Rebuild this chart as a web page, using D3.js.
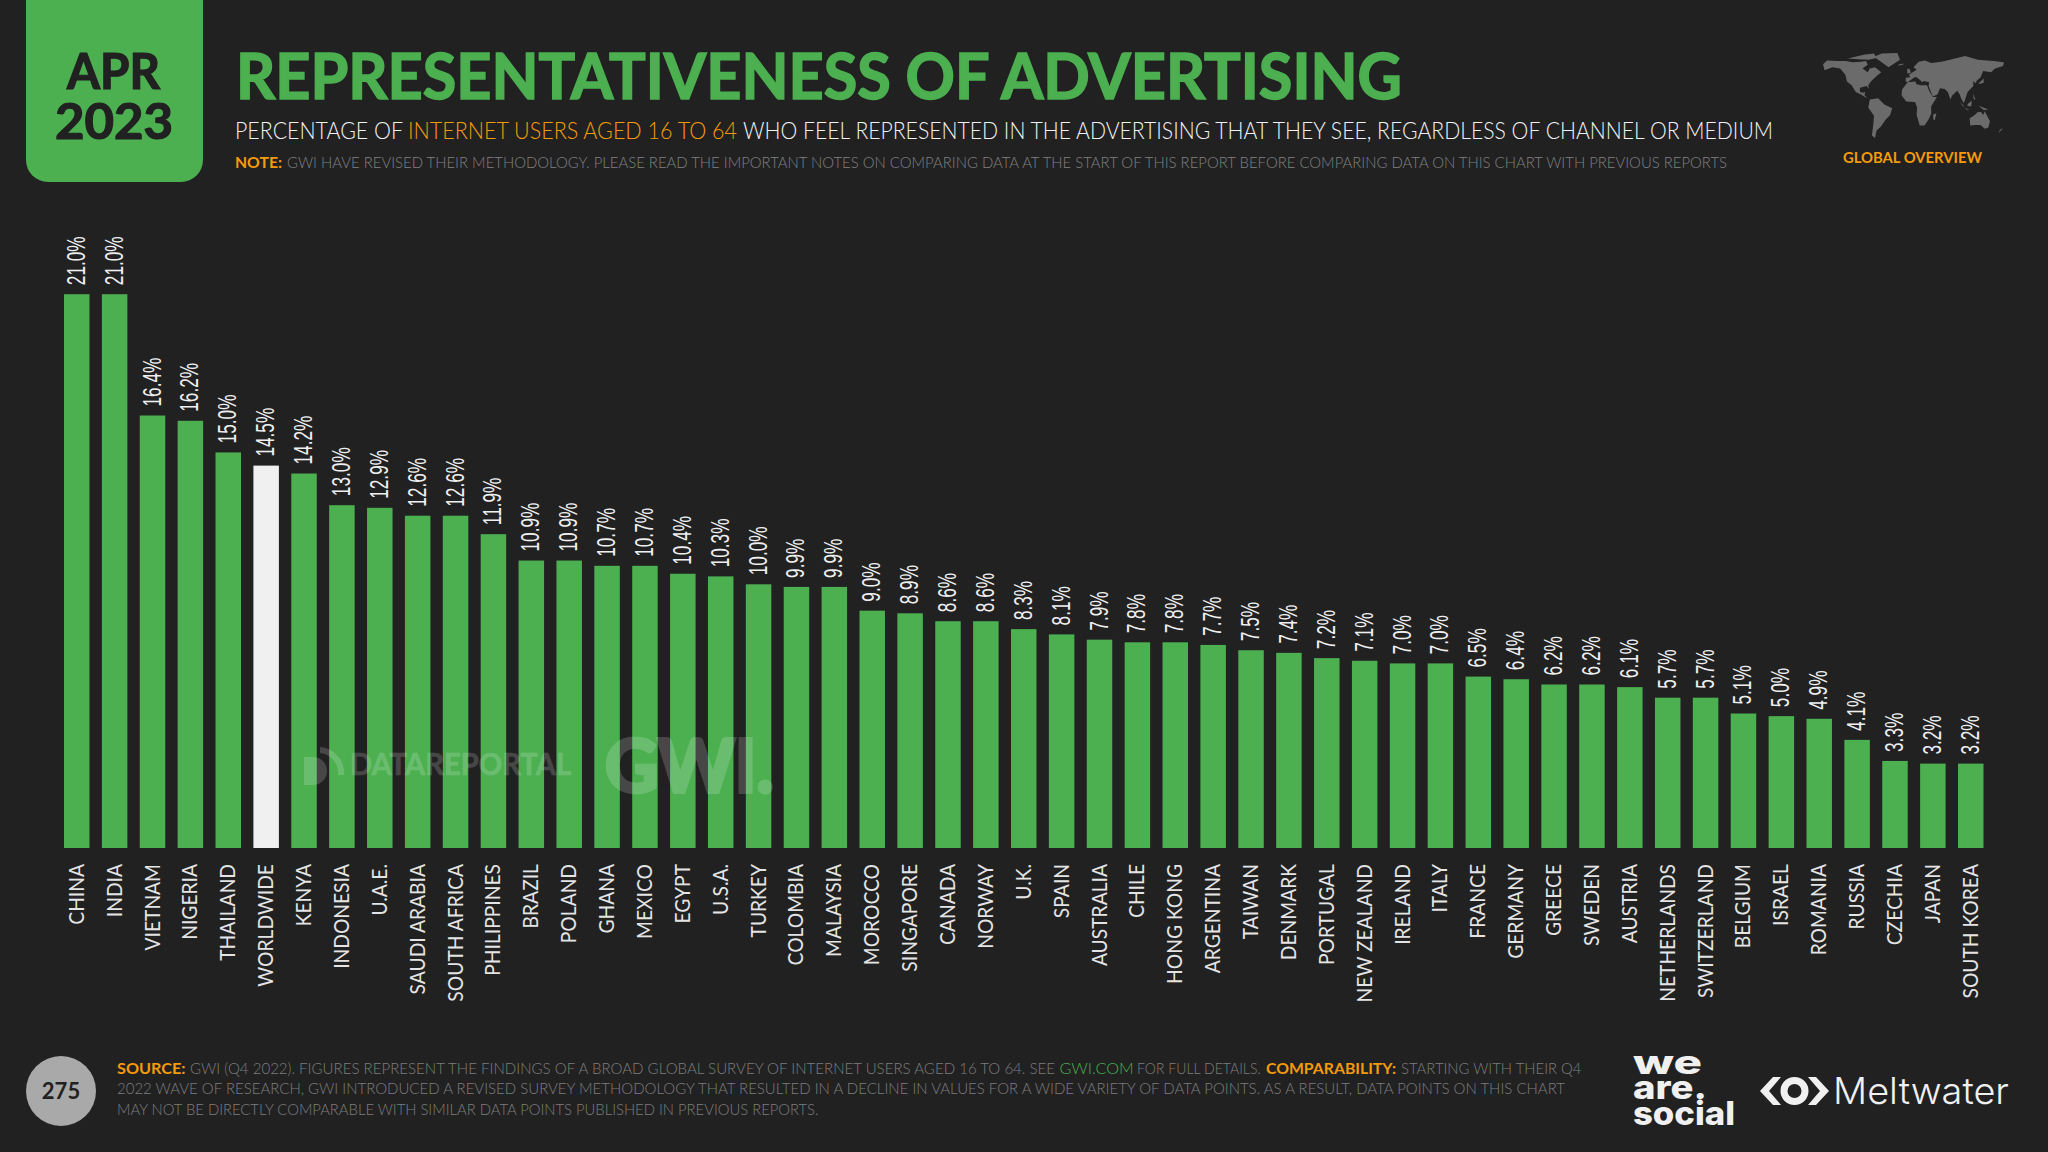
<!DOCTYPE html>
<html><head><meta charset="utf-8">
<script src="https://cdn.jsdelivr.net/npm/d3@7"></script>
<style>html,body{margin:0;padding:0;background:#212122;overflow:hidden}svg{display:block}</style>
</head><body><svg id="c" width="2048" height="1152"></svg>
<script>
const countries=["CHINA","INDIA","VIETNAM","NIGERIA","THAILAND","WORLDWIDE","KENYA","INDONESIA","U.A.E.","SAUDI ARABIA","SOUTH AFRICA","PHILIPPINES","BRAZIL","POLAND","GHANA","MEXICO","EGYPT","U.S.A.","TURKEY","COLOMBIA","MALAYSIA","MOROCCO","SINGAPORE","CANADA","NORWAY","U.K.","SPAIN","AUSTRALIA","CHILE","HONG KONG","ARGENTINA","TAIWAN","DENMARK","PORTUGAL","NEW ZEALAND","IRELAND","ITALY","FRANCE","GERMANY","GREECE","SWEDEN","AUSTRIA","NETHERLANDS","SWITZERLAND","BELGIUM","ISRAEL","ROMANIA","RUSSIA","CZECHIA","JAPAN","SOUTH KOREA"];
const values=[21.0,21.0,16.4,16.2,15.0,14.5,14.2,13.0,12.9,12.6,12.6,11.9,10.9,10.9,10.7,10.7,10.4,10.3,10.0,9.9,9.9,9.0,8.9,8.6,8.6,8.3,8.1,7.9,7.8,7.8,7.7,7.5,7.4,7.2,7.1,7.0,7.0,6.5,6.4,6.2,6.2,6.1,5.7,5.7,5.1,5.0,4.9,4.1,3.3,3.2,3.2];
const highlighted="WORLDWIDE";
const landmasses=[
[[-168,65],[-160,71],[-140,70],[-125,70],[-110,68],[-95,69],[-85,70],[-82,64],[-92,58],[-82,52],[-78,58],[-68,60],[-56,52],[-66,45],[-75,38],[-81,31],[-80,25],[-84,30],[-97,27],[-97,20],[-90,19],[-87,21],[-88,15],[-83,10],[-78,8],[-85,11],[-95,16],[-105,20],[-113,31],[-122,37],[-125,48],[-135,58],[-150,60],[-165,55]],
[[-120,74],[-90,80],[-70,82],[-65,75],[-80,72],[-100,73]],
[[-55,82],[-25,83],[-20,72],[-42,60],[-52,66],[-70,77]],
[[-78,8],[-62,10],[-50,0],[-35,-6],[-39,-17],[-48,-25],[-57,-36],[-65,-42],[-68,-54],[-74,-50],[-71,-30],[-70,-18],[-81,-5]],
[[-17,15],[-16,24],[-8,33],[-5,36],[10,37],[11,33],[20,31],[32,31],[36,22],[43,12],[51,12],[40,-3],[40,-15],[35,-24],[27,-34],[18,-34],[12,-17],[13,-5],[9,4],[-8,5]],
[[-9,37],[-9,43],[0,44],[-3,48],[8,54],[12,56],[6,60],[16,69],[28,71],[40,67],[60,69],[80,73],[105,78],[130,72],[160,70],[180,68],[178,62],[163,58],[155,52],[140,54],[135,44],[127,38],[126,34],[121,38],[121,30],[110,20],[106,10],[103,2],[98,9],[95,16],[90,22],[80,14],[77,8],[72,20],[66,25],[57,26],[52,16],[43,13],[35,30],[36,36],[26,38],[23,36],[18,40],[12,44],[8,44],[0,39],[-5,36]],
[[-24,64],[-14,66],[-14,64],[-22,63]],
[[-6,50],[1,51],[-2,58],[-6,57]],
[[95,5],[105,-5],[100,-2]],[[110,1],[118,6],[117,-3],[110,-3]],[[106,-6],[114,-8],[106,-8]],[[120,18],[125,8],[122,8]],[[131,-2],[150,-8],[141,-9]],
[[131,34],[141,42],[141,35],[133,33]],
[[114,-22],[122,-18],[130,-12],[136,-12],[140,-17],[143,-11],[153,-27],[150,-37],[143,-39],[135,-33],[125,-33],[115,-34]],
[[172,-41],[178,-38],[170,-46]],[[44,-16],[50,-14],[47,-25],[44,-24]]
];
const svg=d3.select("#c");
const font="Lato, 'Open Sans', sans-serif";
const green="#4CAF50",orange="#F59B0B",gray="#808080";
function seg(t,x0,x1,base,size,fill,weight){
  return svg.append("text").attr("x",x0).attr("y",base).attr("font-family",font).attr("font-size",size)
    .attr("font-weight",weight||300).attr("fill",fill).attr("textLength",x1-x0).attr("lengthAdjust","spacingAndGlyphs").text(t);
}
// date tab
svg.append("rect").attr("x",26).attr("y",-30).attr("width",177).attr("height",212).attr("rx",22).attr("fill",green);
seg("APR",67,160,89,50,"#212122",700).attr("stroke","#212122").attr("stroke-width",1.2);
seg("2023",55,173,139,50,"#212122",700).attr("stroke","#212122").attr("stroke-width",1.2);
// header
seg("REPRESENTATIVENESS OF ADVERTISING",236,1402,99,64,green,700).attr("stroke",green).attr("stroke-width",1.6);
seg("PERCENTAGE OF",235,403,139,24,"#f2f2f2");
seg("INTERNET USERS AGED 16 TO 64",408,737,139,24,orange);
seg("WHO FEEL REPRESENTED IN THE ADVERTISING THAT THEY SEE, REGARDLESS OF CHANNEL OR MEDIUM",743,1773,139,24,"#f2f2f2");
seg("NOTE:",235,282,168,15.5,orange,700);
seg("GWI HAVE REVISED THEIR METHODOLOGY. PLEASE READ THE IMPORTANT NOTES ON COMPARING DATA AT THE START OF THIS REPORT BEFORE COMPARING DATA ON THIS CHART WITH PREVIOUS REPORTS",287,1727,168,15.5,gray);
// map
const lon=d3.scaleLinear().domain([-168,180]).range([1823,2004]);
const lat=d3.scaleLinear().domain([83,-54]).range([53,138]);
const land=d3.line().x(d=>lon(d[0])).y(d=>lat(d[1])).curve(d3.curveLinearClosed);
svg.append("g").selectAll("path").data(landmasses).join("path").attr("d",land).attr("fill","#6b6b6b");
seg("GLOBAL OVERVIEW",1843,1982,163,15.5,orange,700);
// chart
const x=d3.scaleBand().domain(countries).range([64,1983.5]).paddingInner(0.327).paddingOuter(0);
const y=d3.scaleLinear().domain([0,21]).range([848,294.2]);
svg.append("g").selectAll("rect").data(countries).join("rect")
  .attr("x",d=>x(d)).attr("width",x.bandwidth())
  .attr("y",(d,i)=>y(values[i])).attr("height",(d,i)=>y(0)-y(values[i]))
  .attr("fill",d=>d===highlighted?"#F1F0F1":green);
svg.append("g").selectAll("text").data(countries).join("text")
  .attr("transform",(d,i)=>`translate(${x(d)+x.bandwidth()/2+8},${y(values[i])-9}) rotate(-90) scale(0.69,1)`)
  .attr("font-family","'Liberation Sans Narrow','Liberation Sans',sans-serif").attr("font-size",25).attr("fill","#efefef")
  .text((d,i)=>values[i].toFixed(1)+"%");
const axis=d3.axisBottom(x).tickSize(0).tickPadding(0);
const ag=svg.append("g").attr("transform","translate(0,848)").call(axis);
ag.select(".domain").remove();
ag.selectAll("text").attr("transform","rotate(-90) translate(-16,0) scale(0.94,1)").attr("text-anchor","end").attr("x",0).attr("y",7).attr("dy",0)
  .attr("font-family",font).attr("font-size",20.5).attr("font-weight",400).attr("fill","#e4e4e4");
// watermark
const wm=svg.append("g").attr("fill","#fff").attr("stroke","#fff").attr("opacity",0.17);
wm.append("text").attr("x",350).attr("y",775).attr("font-family",font).attr("font-size",30).attr("font-weight",700).attr("stroke-width",0.6).attr("textLength",221).attr("lengthAdjust","spacingAndGlyphs").text("DATAREPORTAL");
wm.append("text").attr("x",605).attr("y",792).attr("font-family",font).attr("font-size",72).attr("font-weight",700).attr("stroke-width",4).attr("textLength",169).attr("lengthAdjust","spacingAndGlyphs").text("GWI.");
wm.append("path").attr("stroke","none").attr("d","M304 757h9a14 14 0 0 1 0 28h-9zM320 747a26 26 0 0 1 24 28h-6a20 20 0 0 0-18-22z");
// footer
svg.append("circle").attr("cx",61).attr("cy",1091).attr("r",35).attr("fill","#A9A9A9");
svg.append("text").attr("x",61).attr("y",1099).attr("text-anchor","middle").attr("font-family",font).attr("font-weight",700).attr("font-size",22).attr("fill","#212122").text("275");
const fs=15,fg="#7d7d7d";
seg("SOURCE:",117,185.5,1074,fs,orange,700);
seg("GWI (Q4 2022). FIGURES REPRESENT THE FINDINGS OF A BROAD GLOBAL SURVEY OF INTERNET USERS AGED 16 TO 64. SEE",190,1055,1074,fs,fg);
seg("GWI.COM",1059.5,1133.7,1074,fs,green);
seg("FOR FULL DETAILS.",1137,1260.7,1074,fs,fg);
seg("COMPARABILITY:",1266,1396,1074,fs,orange,700);
seg("STARTING WITH THEIR Q4",1401,1581.5,1074,fs,fg);
seg("2022 WAVE OF RESEARCH, GWI INTRODUCED A REVISED SURVEY METHODOLOGY THAT RESULTED IN A DECLINE IN VALUES FOR A WIDE VARIETY OF DATA POINTS. AS A RESULT, DATA POINTS ON THIS CHART",117,1565,1094,fs,fg);
seg("MAY NOT BE DIRECTLY COMPARABLE WITH SIMILAR DATA POINTS PUBLISHED IN PREVIOUS REPORTS.",117,818.5,1115,fs,fg);
// logos
const logoWords=[["we",69,1074],["are.",74,1099],["social",102,1125]];
const wt=svg.append("text").attr("font-family","Inter, sans-serif").attr("font-weight",800).attr("font-size",33).attr("fill","#f0f0f0");
logoWords.forEach(d=>wt.append("tspan").attr("x",1633).attr("y",d[2]).attr("textLength",d[1]).attr("lengthAdjust","spacingAndGlyphs").text(d[0]));
svg.append("path").attr("fill","#f0f0f0").attr("d","M1773 1077h8l-12 14 12 14h-8l-13-14zM1816 1077h-8l12 14-12 14h8l13-14z");
svg.append("circle").attr("cx",1794.5).attr("cy",1091).attr("r",10.5).attr("fill","none").attr("stroke","#f0f0f0").attr("stroke-width",7);
svg.append("text").attr("x",1833).attr("y",1104).attr("font-family","Inter, sans-serif").attr("font-weight",300).attr("font-size",37)
  .attr("fill","#f0f0f0").attr("textLength",176).attr("lengthAdjust","spacingAndGlyphs").text("Meltwater");
</script></body></html>
